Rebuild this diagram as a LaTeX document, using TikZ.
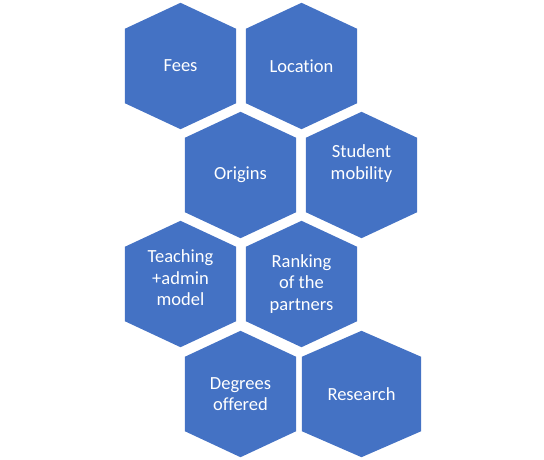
\documentclass[tikz,border=0pt]{standalone}
\usepackage{fontspec}
\setmainfont{Carlito}[Ligatures=NoCommon]
\usetikzlibrary{backgrounds,calc}
\definecolor{hexblue}{RGB}{68,114,196}
\tikzset{
  hexa/.style={
    minimum width=111pt,
    minimum height=126pt,
    inner sep=0pt,
    align=center,
    text=white,
    font=\fontsize{18.5}{21.5}\selectfont
  },
  hexfill/.style={
    fill=hexblue
  }
}

\begin{document}
\begin{tikzpicture}[x=1pt,y=1pt]
\useasboundingbox (0,0) rectangle (544,459);
\node[hexa] (fees) at (180.5,393) {Fees};
\node[hexa] (location) at (301.5,393) {Location};
\node[hexa] (origins) at (240.5,284) {Origins};
\node[hexa, text depth=26pt] (mobility) at (361.5,284) {Student\\mobility};
\node[hexa, text depth=12pt] (teaching) at (180.5,175) {Teaching\\+admin\\model};
\node[hexa] (ranking) at (301.5,175) {Ranking\\of the\\partners};
\node[hexa] (degrees) at (240.5,65) {Degrees\\offered};
\node[hexa, minimum width=119pt] (research) at (361.5,65) {Research};
% hexagons behind the labels
\begin{scope}[on background layer]
\foreach \n in {fees,location,origins,mobility,teaching,ranking,degrees,research}
  \fill[hexfill] (\n.north) -- ($(\n.north east)+(0,-26)$) -- ($(\n.south east)+(0,26)$)
    -- (\n.south) -- ($(\n.south west)+(0,26)$) -- ($(\n.north west)+(0,-26)$) -- cycle;
\end{scope}
\end{tikzpicture}
\end{document}
